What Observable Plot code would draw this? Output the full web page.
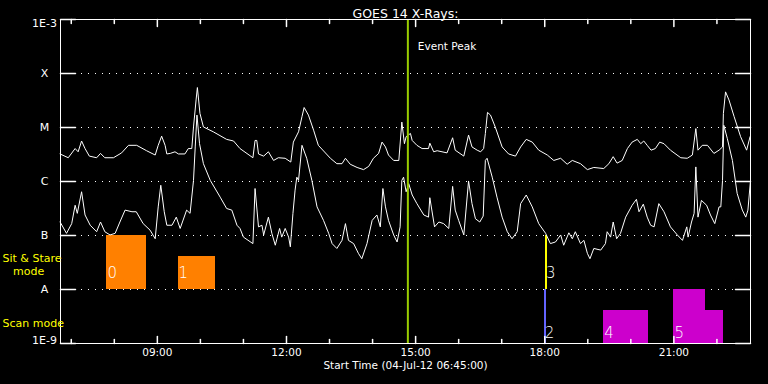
<!DOCTYPE html>
<html><head><meta charset="utf-8">
<script src="https://cdn.jsdelivr.net/npm/d3@7"></script>
<script src="https://cdn.jsdelivr.net/npm/@observablehq/plot@0.6"></script>
<style>html,body{margin:0;padding:0;background:#000;}</style>
</head><body><div id="chart"></div>
<script>
// ---------- data ----------
const titleText = "GOES 14 X-Rays:";
const xLabelText = "Start Time (04-Jul-12 06:45:00)";
const startHour = 6.75, endHour = 22.78;           // hours of 04-Jul-2012 (UTC)
const levelLogs = [-3, -4, -5, -6, -7, -8, -9];
const levelLabels = ["1E-3", "X", "M", "C", "B", "A", "1E-9"];
const gridLogs = [-4, -5, -6, -7, -8];
const majorHours = [9, 12, 15, 18, 21];
const majorLabels = ["09:00", "12:00", "15:00", "18:00", "21:00"];
const minorHours = [7, 8, 10, 11, 13, 14, 16, 17, 19, 20, 22];
const eventPeakHour = 14.82;
const eventPeakLabel = "Event Peak";
const sitStareLabel = "Sit & Stare";
const sitStareLabel2 = "\u00a0\u00a0\u00a0mode";
const scanLabel = "Scan mode";

// GOES long channel (upper curve): time in hours, log10 flux (W/m^2)
const longT = [6.74,6.93,7.09,7.16,7.24,7.32,7.42,7.59,7.68,7.78,
7.98,8.17,8.33,8.52,8.75,8.95,9.02,9.10,9.18,9.22,
9.30,9.41,9.49,9.64,9.72,9.80,9.84,9.90,9.93,9.99,
10.07,10.30,10.61,10.77,10.92,11.22,11.27,11.31,11.35,11.47,
11.58,11.70,11.81,11.97,12.10,12.16,12.28,12.36,12.41,12.51,
12.63,12.74,13.02,13.17,13.29,13.37,13.48,13.64,13.79,13.91,
14.02,14.14,14.22,14.30,14.37,14.49,14.61,14.68,14.74,14.78,
14.88,14.92,15.03,15.15,15.30,15.33,15.42,15.50,15.73,15.86,
15.92,16.12,16.23,16.31,16.43,16.51,16.58,16.62,16.67,16.74,
16.85,17.01,17.16,17.32,17.44,17.57,17.71,17.86,18.06,18.21,
18.37,18.52,18.64,18.83,18.99,19.14,19.37,19.49,19.59,19.68,
19.80,19.92,20.03,20.15,20.23,20.30,20.38,20.47,20.57,20.67,
20.77,20.92,21.16,21.31,21.43,21.51,21.56,21.66,21.78,21.93,
22.05,22.13,22.15,22.20,22.28,22.40,22.55,22.69,22.77];
const longL = [-5.49,-5.56,-5.39,-5.45,-5.25,-5.39,-5.53,-5.56,-5.48,-5.56,
-5.56,-5.47,-5.33,-5.33,-5.43,-5.51,-5.33,-5.16,-5.33,-5.49,
-5.48,-5.45,-5.49,-5.49,-5.39,-5.39,-4.99,-4.49,-4.26,-4.74,
-4.99,-5.08,-5.22,-5.25,-5.39,-5.56,-5.24,-5.24,-5.49,-5.53,
-5.45,-5.61,-5.56,-5.57,-5.64,-5.27,-5.08,-4.80,-4.63,-4.77,
-5.05,-5.33,-5.57,-5.67,-5.67,-5.57,-5.68,-5.74,-5.78,-5.72,
-5.57,-5.48,-5.27,-5.36,-5.51,-5.61,-5.61,-4.90,-5.30,-5.17,
-5.11,-5.24,-5.33,-5.39,-5.39,-5.29,-5.45,-5.43,-5.47,-5.19,
-5.42,-5.53,-5.14,-5.36,-5.42,-5.45,-5.39,-5.11,-4.72,-4.77,
-4.99,-5.36,-5.49,-5.53,-5.36,-5.22,-5.27,-5.42,-5.51,-5.61,
-5.57,-5.68,-5.61,-5.67,-5.78,-5.74,-5.76,-5.67,-5.54,-5.66,
-5.61,-5.39,-5.27,-5.22,-5.30,-5.25,-5.33,-5.42,-5.39,-5.27,
-5.30,-5.42,-5.56,-5.57,-5.51,-5.02,-5.42,-5.33,-5.33,-5.48,
-5.42,-5.36,-4.74,-4.34,-4.49,-4.80,-5.17,-5.42,-5.17];

// GOES short channel (lower curve)
const shortT = [6.74,6.89,7.01,7.09,7.14,7.24,7.32,7.44,7.59,7.68,
7.78,7.90,8.02,8.13,8.25,8.41,8.51,8.67,8.83,8.95,
9.02,9.08,9.16,9.22,9.34,9.44,9.53,9.68,9.76,9.84,
9.88,9.92,9.98,10.07,10.23,10.46,10.61,10.73,10.85,10.92,
11.00,11.22,11.27,11.35,11.43,11.47,11.58,11.66,11.74,11.84,
11.89,11.97,12.05,12.09,12.15,12.20,12.24,12.28,12.36,12.47,
12.59,12.71,12.86,12.98,13.06,13.17,13.29,13.37,13.44,13.56,
13.67,13.75,13.87,13.99,14.10,14.18,14.24,14.30,14.37,14.49,
14.57,14.64,14.68,14.72,14.78,14.84,14.92,15.03,15.19,15.30,
15.33,15.44,15.54,15.65,15.77,15.86,15.92,16.00,16.12,16.23,
16.31,16.39,16.49,16.57,16.62,16.66,16.78,16.89,17.01,17.13,
17.24,17.36,17.44,17.57,17.71,17.86,18.02,18.13,18.25,18.37,
18.44,18.56,18.64,18.71,18.83,18.91,18.99,19.05,19.14,19.30,
19.41,19.45,19.53,19.59,19.67,19.76,19.88,20.03,20.13,20.19,
20.29,20.38,20.46,20.54,20.65,20.77,20.92,21.08,21.20,21.30,
21.33,21.41,21.47,21.51,21.56,21.64,21.76,21.85,21.95,22.05,
22.09,22.13,22.16,22.24,22.36,22.47,22.59,22.67,22.72,22.78];
const shortL = [-6.75,-6.96,-6.78,-6.44,-6.59,-6.19,-6.62,-6.81,-6.93,-6.75,
-6.93,-6.99,-6.96,-6.75,-6.53,-6.56,-6.56,-6.78,-6.90,-7.06,
-6.47,-6.07,-6.56,-6.81,-6.81,-6.66,-6.87,-6.53,-6.59,-5.98,
-5.36,-4.77,-5.30,-5.67,-5.98,-6.29,-6.50,-6.53,-6.81,-6.87,
-7.03,-7.15,-6.13,-6.84,-6.81,-6.99,-6.66,-6.96,-7.18,-6.87,
-7.03,-6.87,-7.03,-7.21,-6.59,-6.16,-5.92,-5.98,-5.33,-5.57,
-5.98,-6.47,-6.72,-6.96,-7.15,-7.24,-7.09,-6.78,-7.09,-7.15,
-7.33,-7.43,-7.15,-6.72,-6.62,-6.84,-6.13,-6.47,-6.72,-6.99,
-7.12,-6.84,-5.98,-5.92,-6.19,-6.04,-6.25,-6.41,-6.62,-6.66,
-6.30,-6.84,-6.75,-6.78,-6.87,-6.09,-6.53,-6.72,-6.99,-5.99,
-6.41,-6.69,-6.75,-6.64,-5.61,-5.57,-5.92,-6.29,-6.66,-6.93,
-7.06,-6.93,-6.41,-6.25,-6.47,-6.78,-6.96,-7.15,-7.12,-6.99,
-7.18,-6.95,-7.06,-6.93,-7.15,-7.09,-7.33,-7.43,-7.24,-7.27,
-7.15,-6.93,-7.03,-6.75,-7.06,-6.96,-6.66,-6.44,-6.33,-6.56,
-6.42,-6.66,-6.81,-6.84,-6.41,-6.56,-6.84,-6.99,-7.09,-6.84,
-7.03,-6.75,-6.59,-5.73,-6.66,-6.35,-6.44,-6.62,-6.78,-6.47,
-6.47,-5.98,-4.96,-5.20,-5.61,-6.22,-6.53,-6.66,-6.53,-5.98];

// observation bars
const barLabels = ["0", "1", "2", "3", "4", "5", ""];
const barGroup  = ["sit", "sit", "scanA", "sitB", "scan", "scan", "scan"];
const barMode   = ["sit", "sit", "scan", "sit", "scan", "scan", "scan"];
const barStart  = [7.83, 9.48, 17.99, 18.02, 19.37, 21.00, 21.74];
const barEnd    = [8.74, 10.36, 18.03, 18.06, 20.41, 21.74, 22.15];
const barBottom = [-8, -8, -9, -8, -9, -9, -9];
const barTop    = [-7, -7.38, -8, -7, -8.38, -8, -8.38];

// ---------- build ----------
const toDate = h => new Date(Date.UTC(2012, 6, 4) + h * 3600000);
const longData = longT.map((t, i) => ({time: toDate(t), flux: 10 ** longL[i]}));
const shortData = shortT.map((t, i) => ({time: toDate(t), flux: 10 ** shortL[i]}));
const bars = barStart.map((s, i) => ({
  x1: toDate(s), x2: toDate(barEnd[i]),
  y1: 10 ** barBottom[i], y2: 10 ** barTop[i],
  group: barGroup[i], mode: barMode[i], label: barLabels[i]
}));
const levels = levelLogs.map((l, i) => ({v: 10 ** l, label: levelLabels[i]}));
const tickShape = {draw(context, l) { context.moveTo(0, 0); context.lineTo(0, -l); }};
const white = "white";
const font = "DejaVu Sans, sans-serif";

const chart = Plot.plot({
  width: 768, height: 384,
  marginLeft: 60, marginRight: 18, marginTop: 19, marginBottom: 41,
  style: {background: "black", color: white, fontFamily: font},
  x: {type: "utc", domain: [toDate(startHour), toDate(endHour)], axis: null},
  y: {type: "log", domain: [1e-9, 1e-3], axis: null},
  color: {domain: ["sit", "scanA", "sitB", "scan"], range: ["#ff8000", "#6464ff", "#ffff00", "#cc00cc"]},
  marks: [
    Plot.ruleY(gridLogs.map(l => 10 ** l), {stroke: white, strokeDasharray: "1,6"}),
    Plot.rect(bars, {x1: "x1", x2: "x2", y1: "y1", y2: "y2", fill: "group", inset: 0, shapeRendering: "crispEdges"}),
    Plot.text(bars.filter(b => b.mode === "sit" && b.label), {x: "x1", y: "y1", text: "label", textAnchor: "start", dx: 0.5, dy: -16, fill: white, fontSize: 15, fontWeight: 300}),
    Plot.text(bars.filter(b => b.mode === "scan" && b.label), {x: "x1", y: "y1", text: "label", textAnchor: "start", dx: 0.5, dy: -10, fill: white, fontSize: 15, fontWeight: 300}),
    Plot.line(longData, {x: "time", y: "flux", stroke: white, strokeWidth: 1}),
    Plot.line(shortData, {x: "time", y: "flux", stroke: white, strokeWidth: 1}),
    Plot.ruleX([toDate(eventPeakHour)], {stroke: "#99cc00", strokeWidth: 2}),
    Plot.text([eventPeakLabel], {x: () => toDate(eventPeakHour), frameAnchor: "top", dy: 23, dx: 10, textAnchor: "start", fill: white, fontSize: 10.5}),
    Plot.frame({stroke: white}),
    // y ticks (inward, left and right)
    Plot.vector(levels, {y: "v", frameAnchor: "left", rotate: 90, length: 15, anchor: "start", shape: tickShape, stroke: white}),
    Plot.vector(levels, {y: "v", frameAnchor: "right", rotate: -90, length: 15, anchor: "start", shape: tickShape, stroke: white}),
    // x ticks (inward, bottom and top)
    Plot.vector(majorHours, {x: h => toDate(h), frameAnchor: "bottom", rotate: 0, length: 7, anchor: "start", shape: tickShape, stroke: white}),
    Plot.vector(minorHours, {x: h => toDate(h), frameAnchor: "bottom", rotate: 0, length: 4, anchor: "start", shape: tickShape, stroke: white}),
    Plot.vector(majorHours, {x: h => toDate(h), frameAnchor: "top", rotate: 180, length: 7, anchor: "start", shape: tickShape, stroke: white}),
    Plot.vector(minorHours, {x: h => toDate(h), frameAnchor: "top", rotate: 180, length: 4, anchor: "start", shape: tickShape, stroke: white}),
    // y labels
    Plot.text(levels.slice(1, -1), {y: "v", text: "label", frameAnchor: "left", dx: -16, textAnchor: "middle", fill: white, fontSize: 11}),
    Plot.text(levels.slice(0, 1), {y: "v", text: "label", frameAnchor: "left", dx: -16, dy: 4, textAnchor: "middle", fill: white, fontSize: 11}),
    Plot.text(levels.slice(-1), {y: "v", text: "label", frameAnchor: "left", dx: -16, dy: -3, textAnchor: "middle", fill: white, fontSize: 11}),
    // x labels
    Plot.text(majorHours, {x: h => toDate(h), text: (d, i) => majorLabels[i], frameAnchor: "bottom", dy: 12, fill: white, fontSize: 10.5}),
    Plot.text([xLabelText], {frameAnchor: "bottom", dy: 25, fill: white, fontSize: 10.5}),
    // title
    Plot.text([titleText], {frameAnchor: "top", dy: -10, fill: white, fontSize: 12.5}),
    // mode labels
    Plot.text([sitStareLabel], {y: () => 10 ** -7.5, frameAnchor: "left", dx: -58, dy: -4, textAnchor: "start", fill: "#ffff00", fontSize: 11}),
    Plot.text([sitStareLabel2], {y: () => 10 ** -7.5, frameAnchor: "left", dx: -58, dy: 9, textAnchor: "start", fill: "#ffff00", fontSize: 11}),
    Plot.text([scanLabel], {y: () => 10 ** -8.5, frameAnchor: "left", dx: -58, dy: 7, textAnchor: "start", fill: "#ffff00", fontSize: 11})
  ]
});
document.getElementById("chart").appendChild(chart);
</script>
</body></html>
